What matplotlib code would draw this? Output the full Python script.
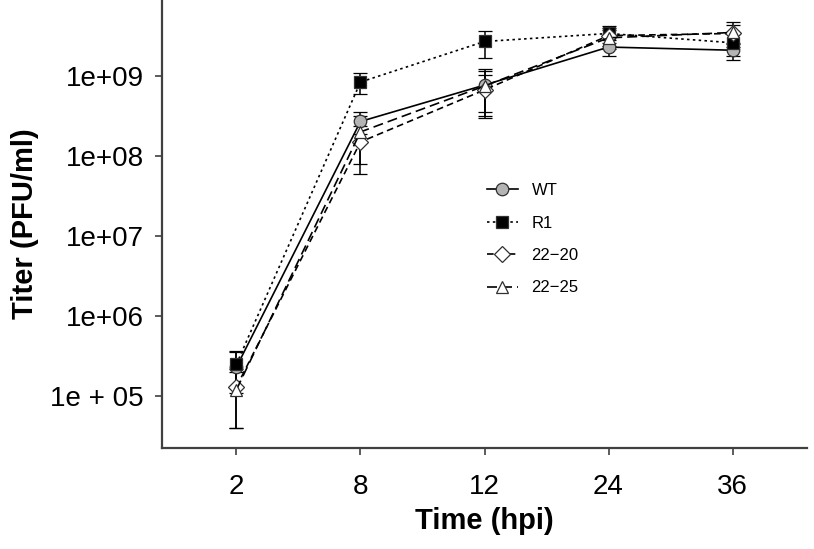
import numpy as np
import matplotlib
matplotlib.use("Agg")
import matplotlib.pyplot as plt

plt.rcParams["font.family"] = ["Liberation Sans", "DejaVu Sans"]

times = ["2", "8", "12", "24", "36"]
strains = ["WT", "R1", "22\u221220", "22\u221225"]

wt = [2.3e5, 2.7e8, 7.7e8, 2.3e9, 2.1e9]
wt_err = [1.2e5, 8.0e7, 4.5e8, 5.0e8, 5.0e8]
r1 = [2.5e5, 8.4e8, 2.7e9, 3.4e9, 2.6e9]
r1_err = [1.2e5, 2.5e8, 1.0e9, 8.0e8, 8.0e8]
s2220 = [1.3e5, 1.5e8, 6.7e8, 3.2e9, 3.4e9]
s2220_err = [9.0e4, 9.0e7, 3.7e8, 8.0e8, 9.0e8]
s2225 = [1.2e5, 2.0e8, 7.5e8, 3.0e9, 3.5e9]
s2225_err = [8.0e4, 1.2e8, 4.0e8, 8.0e8, 1.2e9]

yticks = [1e5, 1e6, 1e7, 1e8, 1e9]
ytick_labels = ["1e + 05", "1e+06", "1e+07", "1e+08", "1e+09"]

styles = [
    dict(ls="-", marker="o", mfc="#b4b4b4"),
    dict(ls=(0, (1.5, 2.0)), marker="s", mfc="black"),
    dict(ls=(0, (4, 2.5)), marker="D", mfc="white", ms=8),
    dict(ls=(0, (6, 3)), marker="^", mfc="white"),
]
series = [(wt, wt_err), (r1, r1_err), (s2220, s2220_err), (s2225, s2225_err)]

fig = plt.figure(figsize=(8.14, 5.49), dpi=100)
ax = fig.add_axes([162 / 814, 101 / 549, 645 / 814, 448 / 549])
x = np.arange(len(times))

handles = []
for name, (vals, err), st in zip(strains, series, styles):
    kw = dict(color="black", lw=1.2, mec="#303030", ms=9, mew=0.9)
    kw.update(st)
    cont = ax.errorbar(x, vals, yerr=err, label=name, capsize=5, elinewidth=1.1,
                       ecolor="black", capthick=1.1, **kw)
    handles.append(cont[0])

ax.set_yscale("log")
ax.set_ylim(10 ** 4.35, 10 ** 9.95)
ax.set_xlim(-0.6, 4.6)
ax.set_xticks(x)
ax.set_xticklabels(times)
ax.set_yticks(yticks)
ax.set_yticklabels(ytick_labels)
ax.minorticks_off()
ax.tick_params(labelsize=20, length=5, width=1.2, color="#404040", pad=8)
ax.tick_params(axis="x", pad=14)

for s in ["top", "right"]:
    ax.spines[s].set_visible(False)
for s in ["left", "bottom"]:
    ax.spines[s].set_color("#404040")
    ax.spines[s].set_linewidth(1.6)

ax.set_xlabel("Time (hpi)", fontsize=21, fontweight="bold", labelpad=5)
ax.set_ylabel("Titer (PFU/ml)", fontsize=21, fontweight="bold", labelpad=8)

ax.legend(handles, strains, loc="upper left", bbox_to_anchor=(0.48, 0.625),
          frameon=False, fontsize=12, handlelength=1.9, labelspacing=1.05,
          handletextpad=0.8)

fig.savefig("out.png", dpi=100)
